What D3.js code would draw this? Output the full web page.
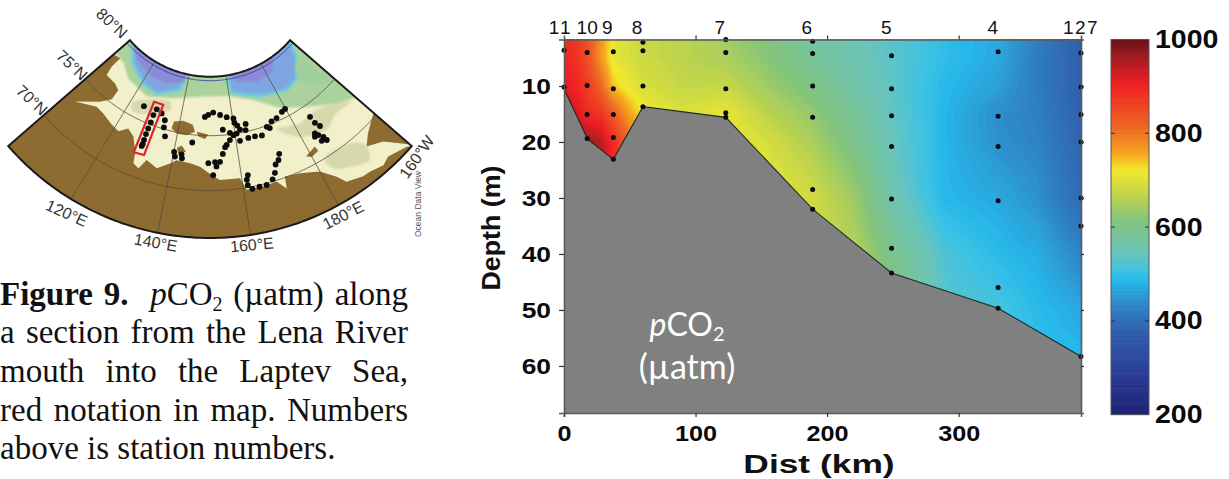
<!DOCTYPE html>
<html>
<head>
<meta charset="utf-8">
<script src="https://cdn.jsdelivr.net/npm/d3@7"></script>
<style>
html, body { margin: 0; padding: 0; background: #fff; overflow: hidden; }
svg { display: block; }
text { font-family: "Liberation Sans", Arial, sans-serif; }
</style>
</head>
<body>
<svg width="1229" height="479"></svg>
<script>
// ---- section data ----
var gridDist = [0, 10, 18, 28, 37.5, 48, 60, 90, 123, 155, 189, 220, 249, 290, 330, 360, 393];
var gridDepth = [0, 5, 10, 15, 20, 25, 30, 40, 50, 60, 70];
// one row per depth, one value per distance (pCO2 in uatm)
var pco2Rows = [
	[890, 870, 840, 770, 715, 695, 680, 665, 645, 610, 570, 545, 530, 495, 472, 425, 375],
	[900, 880, 845, 770, 710, 695, 680, 665, 650, 620, 585, 555, 532, 495, 470, 420, 375],
	[920, 895, 870, 815, 740, 715, 695, 672, 675, 640, 605, 565, 535, 487, 460, 420, 375],
	[950, 925, 890, 880, 830, 770, 720, 700, 712, 665, 630, 585, 540, 483, 442, 425, 378],
	[985, 975, 965, 945, 890, 820, 750, 720, 725, 690, 650, 600, 545, 483, 445, 430, 385],
	[990, 980, 970, 950, 900, 830, 760, 730, 730, 705, 668, 620, 550, 483, 458, 438, 390],
	[990, 980, 970, 950, 900, 830, 760, 730, 730, 715, 685, 640, 560, 485, 470, 445, 395],
	[990, 980, 970, 950, 900, 830, 760, 730, 730, 715, 690, 660, 600, 520, 490, 475, 430],
	[990, 980, 970, 950, 900, 830, 760, 730, 730, 715, 690, 660, 610, 530, 515, 490, 470],
	[990, 980, 970, 950, 900, 830, 760, 730, 730, 715, 690, 660, 610, 530, 520, 495, 490],
	[990, 980, 970, 950, 900, 830, 760, 730, 730, 715, 690, 660, 610, 530, 520, 495, 490]
];
var bottomDist = [0, 18, 37.5, 60, 123, 189, 249, 330, 393];
var bottomDepth = [10.5, 19.5, 23.1, 13.7, 15.6, 32, 43.4, 49.7, 58.3];
var stationDist = [0, 17.6, 37.5, 60, 123, 189, 249, 330, 393];
var stationNames = ["11", "10", "9", "8", "7", "6", "5", "4", "127"];
var stationLabelDist = [-2.5, 17.6, 33, 55.5, 118.5, 184.5, 245, 326, 393];
var sampleDepths = [
	[3.6, 10.2],
	[4, 9.9, 15.1, 19.4],
	[3.9, 10.5, 15.1, 19.2, 23.1],
	[2.2, 3.7, 10, 13.7],
	[1.7, 4, 10.5, 14.8, 15.6],
	[2, 4.2, 10, 15.6, 28.5, 32],
	[4.6, 10.5, 15.3, 20.8, 30.2, 39, 43.4],
	[3.9, 15.4, 20.8, 30.5, 46, 49.7],
	[4.1, 10.2, 15.1, 20, 30, 35, 58.3]
];
var distTicks = [0, 100, 200, 300];
var depthTicks = [10, 20, 30, 40, 50, 60];
var scaleTicks = [200, 400, 600, 800, 1000];
var colorValues = [200, 278, 379, 433, 486, 507, 547, 615, 668, 722, 756, 810, 905, 960, 1000];
var colorStops = ["#1e2272", "#2b3a94", "#3060ae", "#2f85c6", "#27b8ea", "#3dc3e4", "#6cc4b8", "#82c47c", "#bfd44b", "#f2e92c", "#f6a61e", "#ee6a24", "#ef2023", "#a51c20", "#6b1216"];

// ---- map data, lon/lat ----
var coastMain = [[102.3,78.4],[105.6,78.6],[105.6,77.5],[106.6,76.65],[111.2,76.6],[113.8,76.3],[113.9,75.3],[111.3,74.45],[105.4,72.9],[111.5,73.9],[114.5,73.8],[118.8,73.4],[121.6,73.2],[123.9,73.85],[126.5,73.4],[129,72.1],[129.6,71.15],[131.4,70.9],[132.8,71.85],[136.2,71.4],[139.6,72.1],[141.3,72.5],[145.4,72.4],[148.4,72.15],[152.2,71.3],[154,70.95],[159.5,70.93],[160.8,69.8],[165.2,69.8],[168.8,69.9],[170.7,69],[171.3,70.1],[175.2,69.85],[180,69.2],[182.9,68],[184.2,67.15],[188,66.7],[189.8,66.65],[193,66.3],[195.1,66.6],[199.5,66],[200.3,65.7]];
var coastAlaska = [[200.3,70.3],[195.5,69.4],[193,68.6],[196.7,67.9],[199,66.7],[200.3,65.9]];
var islands = [
	[[137.6,75.25],[137.9,75.9],[141.2,76.15],[144.9,75.9],[146,75.3],[143.2,74.9],[139.7,74.9]],
	[[146.6,75.3],[150.7,75.1],[149.6,74.7],[147.3,74.9]],
	[[140.7,73.6],[142.1,73.9],[143.7,73.4],[141.5,73.1]],
	[[178.7,71],[182.1,71.4],[182.3,70.9],[180,70.7]]
];
var shelfTan = [
	[[120.7,76],[134.3,77.55],[135.3,76.8],[122.8,75.4]],
	[[174.2,74.4],[179.8,72.8],[187.5,72.1],[192.9,72.7],[198.5,72.5],[194.2,73.5],[188.7,74.1],[181.8,73.9]],
	[[182.6,69.9],[186.8,70.15],[192.9,69],[191.5,67.5],[186.8,68.1],[183.3,68.8]]
];
var shelfEdge = [[102.3,78.6],[108.3,78.5],[114.1,77.7],[124.6,77.2],[135.3,77.93],[146.8,78.5],[158.8,78.5],[169.8,77.6],[178.3,76],[186.7,74.8],[194.2,73.5],[200.3,72.4]];
var deepWest = [[103.9,80.4],[111.5,79],[121.1,78],[127.9,77.8],[137.3,78.8],[139,80.4]];
var deepEast = [[160.2,80.4],[161.3,78.7],[172.9,77.7],[184,77.1],[190.1,77.4],[196.5,78.9],[200.3,80.4]];
var deepestWest = [[105,80.4],[112,79.5],[122,79],[130,79],[138,79.5],[139,80.4]];
var deepestEast = [[162,80.4],[165,79.6],[175,79],[183,79.2],[188,80.4]];
var ridgeEast = [[198.7,78.7],[198.4,77],[200.3,75],[195.2,75.6],[190.8,77.1],[192.8,78.3]];
var cruiseTrack = [[130.3,76.5],[129.9,75.9],[130,75.2],[129.9,74.6],[129.9,74.05],[130,73.5],[130.1,73.1],[130,72.9]];
var otherStations = [[125.3,76.3],[132.6,76.3],[134.5,75.8],[134.9,75.15],[136.1,74.4],[145.4,74.3],[140.1,73.2],[140.6,72.8],[142.5,73.1],[142.8,72.75],[149.3,76.7],[150.6,76.9],[152.6,77.1],[155.3,76.85],[157.8,76.6],[160.3,76.4],[160.4,76],[164.4,75.7],[163.9,75.15],[155.9,75.5],[158.3,75.15],[160.6,75],[162,75.3],[161.3,75.7],[159.4,74.9],[158,74.5],[156.8,74.1],[156.2,73.9],[155.3,73.3],[154.3,72.6],[152.8,72.6],[150.8,72.5],[153.2,72.2],[152.2,71.4],[161.3,74.3],[164.2,74.4],[166.5,74.4],[168.8,74.3],[171.3,74.9],[173.5,75.2],[175.6,75.3],[178.3,75.6],[179.8,75.7],[172.1,74.7],[185.7,73.9],[185.9,73.2],[186.6,72.7],[184.1,72.4],[184.7,72.1],[185.6,71.7],[183.6,72.15],[184.6,71.5],[185.9,71.3],[172,72.2],[171.2,71.7],[170,71.4],[169.1,70.7],[168,70.2],[166.1,69.85],[164.2,69.85],[162.3,69.8],[161.3,70.2],[161.3,70.7],[161.8,71.1]];
var redBox = [[128.2,77.05],[132.1,77.1],[131.6,72.2],[128.5,72.1]];
var meridians = [120, 140, 160, 180];
var parallels = [70, 75, 80];
var lonWest = 102.3, lonEast = 200.3, latNorth = 80.36, latSouth = 65.7;

var svg = d3.select("svg");

// widen a text by a factor, the reference fonts look stretched sideways
function stretch(sel, k) {
	sel.each(function() {
		this.setAttribute("textLength", this.getComputedTextLength() * k);
		this.setAttribute("lengthAdjust", "spacingAndGlyphs");
	});
}

// ---- section plot ----
var x = d3.scaleLinear().domain([0, 393]).range([564, 1081]);
var y = d3.scaleLinear().domain([1.7, 68.4]).range([39.5, 413]);
var color = d3.scaleLinear().domain(colorValues).range(colorStops).interpolate(d3.interpolateRgb).clamp(true);

// bilinear lookup in the read-off table so the contours can be smooth
function pco2At(dist, depth) {
	var i = Math.min(d3.bisectRight(gridDist, dist), gridDist.length - 1);
	var j = Math.min(d3.bisectRight(gridDepth, depth), gridDepth.length - 1);
	var tx = (dist - gridDist[i - 1]) / (gridDist[i] - gridDist[i - 1]);
	var ty = (depth - gridDepth[j - 1]) / (gridDepth[j] - gridDepth[j - 1]);
	var top = pco2Rows[j - 1][i - 1] * (1 - tx) + pco2Rows[j - 1][i] * tx;
	var low = pco2Rows[j][i - 1] * (1 - tx) + pco2Rows[j][i] * tx;
	return top * (1 - ty) + low * ty;
}

var stepKm = 1, stepM = 0.5;
var nx = Math.round(393 / stepKm) + 1, ny = Math.round(70 / stepM) + 1;
var field = [];
for (var j = 0; j < ny; j++) {
	for (var i = 0; i < nx; i++) {
		field.push(pco2At(i * stepKm, j * stepM));
	}
}
var contours = d3.contours().size([nx, ny]).smooth(true).thresholds(d3.range(200, 1000, 6))(field);
var contourPath = d3.geoPath(d3.geoTransform({
	point: function(px, py) {
		this.stream.point(x((px - 0.5) * stepKm), y((py - 0.5) * stepM));
	}
}));

var floorLine = d3.line().x(function(d) { return x(d[0]); }).y(function(d) { return y(d[1]); });
var floorPts = d3.zip(bottomDist, bottomDepth);

svg.append("rect")
	.attr("x", x(0)).attr("y", y.range()[0])
	.attr("width", x(393) - x(0)).attr("height", y.range()[1] - y.range()[0])
	.attr("fill", "#808080");

svg.append("clipPath").attr("id", "water")
	.append("path")
	.attr("d", floorLine([[0, 1.7]].concat(floorPts, [[393, 1.7]])) + "Z");

svg.append("g").attr("clip-path", "url(#water)")
	.selectAll("path").data(contours).enter().append("path")
	.attr("d", contourPath)
	.attr("fill", function(d) { return color(d.value + 3); });

svg.append("path")
	.attr("d", floorLine(floorPts))
	.attr("fill", "none").attr("stroke", "#1c2a2a").attr("stroke-width", 1.1);

// sample bottles
stationDist.forEach(function(dist, k) {
	svg.append("g").selectAll("circle").data(sampleDepths[k]).enter().append("circle")
		.attr("cx", x(dist))
		.attr("cy", function(d) { return y(d); })
		.attr("r", 2.5)
		.attr("fill", "#0a0a14");
});

// axes
var axisColor = "#5a5a5a";
function styleAxis(g) {
	g.selectAll(".domain").attr("stroke", axisColor).attr("stroke-width", 1.6);
	g.selectAll(".tick line").attr("stroke", "#333").attr("stroke-width", 1.2);
	g.selectAll("text").attr("fill", "#0a0a0a")
		.style("font-family", '"Liberation Sans", Arial, sans-serif')
		.style("font-weight", "bold").style("font-size", "22.5px");
}
var bottomAxis = svg.append("g").attr("transform", "translate(0,413)")
	.call(d3.axisBottom(x).tickValues(distTicks).tickSize(4).tickPadding(8).tickFormat(d3.format("d")))
	.call(styleAxis);
bottomAxis.selectAll("text").call(stretch, 1.12);

var leftAxis = svg.append("g").attr("transform", "translate(564,0)")
	.call(d3.axisLeft(y).tickValues(depthTicks).tickSize(5).tickPadding(8).tickFormat(d3.format("d")))
	.call(styleAxis);
leftAxis.selectAll("text").call(stretch, 1.17);

svg.append("g").attr("transform", "translate(1081,0)")
	.call(d3.axisRight(y).tickValues(depthTicks).tickSize(3).tickFormat(""))
	.call(styleAxis);

var topAxis = svg.append("g").attr("transform", "translate(0,39.5)")
	.call(d3.axisTop(x).tickValues(distTicks.slice(1)).tickSize(4).tickFormat(""))
	.call(styleAxis);

// station numbers along the top
svg.append("g").selectAll("text").data(stationNames).enter().append("text")
	.attr("x", function(d, k) { return x(stationLabelDist[k]); })
	.attr("y", 34)
	.attr("text-anchor", "middle")
	.attr("font-size", 19)
	.attr("letter-spacing", function(d) { return d === "11" ? 2 : d === "127" ? 1.5 : 0; })
	.attr("fill", "#111")
	.text(function(d) { return d; });

svg.append("text")
	.attr("x", 819).attr("y", 473)
	.attr("text-anchor", "middle")
	.attr("font-size", 26).attr("font-weight", "bold").attr("fill", "#111")
	.text("Dist (km)").call(stretch, 1.36);

svg.append("text")
	.attr("transform", "translate(500,228) rotate(-90)")
	.attr("text-anchor", "middle")
	.attr("font-size", 26).attr("font-weight", "bold").attr("fill", "#111")
	.text("Depth (m)").call(stretch, 1.03);

// white note on the grey sea floor
var note = svg.append("text")
	.attr("x", 687).attr("y", 336)
	.attr("text-anchor", "middle")
	.attr("fill", "#fff")
	.style("font-family", "Lato, 'Open Sans', sans-serif")
	.attr("font-size", 32);
note.append("tspan").attr("font-style", "italic").text("p");
note.append("tspan").text("CO");
note.append("tspan").attr("font-size", 20).attr("dy", 5).text("2");
svg.append("text")
	.attr("x", 687).attr("y", 379)
	.attr("text-anchor", "middle")
	.attr("fill", "#fff")
	.style("font-family", "Lato, 'Open Sans', sans-serif")
	.attr("font-size", 34)
	.text("(\u00b5atm)");

// ---- colour bar ----
var cbar = d3.scaleLinear().domain([200, 1000]).range([414.7, 39.5]);
var cbarBand = d3.scaleBand().domain(d3.range(200, 1000, 8)).range([414.7, 39.5]).paddingInner(0);
svg.append("g").selectAll("rect").data(cbarBand.domain()).enter().append("rect")
	.attr("x", 1111).attr("width", 38)
	.attr("y", function(d) { return cbarBand(d) - 0.3; })
	.attr("height", cbarBand.bandwidth() + 0.6)
	.attr("fill", function(d) { return color(d + 4); });
svg.append("rect")
	.attr("x", 1111).attr("y", 39.5).attr("width", 38).attr("height", 375.2)
	.attr("fill", "none").attr("stroke", "#555").attr("stroke-width", 1);

var cbarAxis = svg.append("g").attr("transform", "translate(1149,0)")
	.call(d3.axisRight(cbar).tickValues(scaleTicks).tickSize(0).tickPadding(6).tickFormat(d3.format("d")))
	.call(styleAxis);
cbarAxis.select(".domain").remove();
cbarAxis.selectAll("text").style("font-size", "25px").call(stretch, 1.14);
svg.append("g").selectAll("g").data(scaleTicks.slice(1, 4)).enter().append("g")
	.each(function(d) {
		d3.select(this).append("line")
			.attr("x1", 1111).attr("x2", 1115).attr("y1", cbar(d)).attr("y2", cbar(d))
			.attr("stroke", "#333");
		d3.select(this).append("line")
			.attr("x1", 1145).attr("x2", 1149).attr("y1", cbar(d)).attr("y2", cbar(d))
			.attr("stroke", "#333");
	});

// ---- map ----
var projection = d3.geoAzimuthalEquidistant()
	.rotate([-151.3, -90])
	.scale(630.25)
	.translate([210, -29.3])
	.precision(0.1);
var mapLine = d3.line();
function mapPath(pts, closed) {
	return mapLine(pts.map(function(p) { return projection(p); })) + (closed ? "Z" : "");
}
// smooth variant for coast-free bands
var mapCurve = d3.line().curve(d3.curveCatmullRomClosed);
function mapBlob(pts) {
	return mapCurve(pts.map(function(p) { return projection(p); }));
}
function parallelPts(lat) {
	return d3.range(lonWest, lonEast + 0.5, 1).map(function(lon) { return [lon, lat]; });
}
function meridianPts(lon) {
	return d3.range(latSouth, latNorth + 0.2, 0.5).map(function(lat) { return [lon, lat]; });
}
// runs a band round along a parallel, so it does not close with a chord
function closeAlong(pts, lat) {
	var from = pts[pts.length - 1][0], to = pts[0][0];
	return pts.concat(d3.range(from, to, -1).map(function(lon) { return [lon, lat]; }), [[to, lat]]);
}
var sectorPts = parallelPts(latNorth).concat(parallelPts(latSouth).reverse());

var defs = svg.append("defs");
defs.append("clipPath").attr("id", "sector").append("path").attr("d", mapPath(sectorPts, true));
defs.append("filter").attr("id", "soft")
	.attr("x", "-5%").attr("y", "-5%").attr("width", "110%").attr("height", "110%")
	.append("feGaussianBlur").attr("stdDeviation", 0.8);

var map = svg.append("g").attr("clip-path", "url(#sector)");
map.append("path").attr("d", mapPath(sectorPts, true)).attr("fill", "#f2f0ca");

var sea = map.append("g").attr("filter", "url(#soft)");
shelfTan.forEach(function(p) {
	sea.append("path").attr("d", mapBlob(p)).attr("fill", "#d7d8ac");
});
sea.append("path").attr("d", mapPath(closeAlong(shelfEdge, 81), true)).attr("fill", "#abd29c");
[deepWest, deepEast].forEach(function(p) {
	sea.append("path").attr("d", mapPath(closeAlong(p, 81), true)).attr("fill", "#7ea7e2")
		.attr("stroke", "#70d0d8").attr("stroke-width", 3);
});
[deepestWest, deepestEast].forEach(function(p) {
	sea.append("path").attr("d", mapPath(closeAlong(p, 81), true)).attr("fill", "#8b8bd8");
});
sea.append("path").attr("d", mapBlob(ridgeEast)).attr("fill", "#9fd09c");

var landColor = "#8e6b30";
map.append("path").attr("d", mapPath(closeAlong(coastMain, 65), true)).attr("fill", landColor);
map.append("path").attr("d", mapPath(coastAlaska, true)).attr("fill", landColor);
islands.forEach(function(p) {
	map.append("path").attr("d", mapPath(p, true)).attr("fill", landColor);
});

meridians.forEach(function(lon) {
	map.append("path").attr("d", mapPath(meridianPts(lon))).attr("fill", "none")
		.attr("stroke", "#54503a").attr("stroke-width", 0.8);
});
parallels.forEach(function(lat) {
	map.append("path").attr("d", mapPath(parallelPts(lat))).attr("fill", "none")
		.attr("stroke", lat === 80 ? "#3a3a90" : "#54503a").attr("stroke-width", 0.8);
});

map.append("g").selectAll("circle").data(otherStations.concat(cruiseTrack)).enter().append("circle")
	.attr("cx", function(d) { return projection(d)[0]; })
	.attr("cy", function(d) { return projection(d)[1]; })
	.attr("r", 2.9)
	.attr("fill", "#0c0c0c");

svg.append("path").attr("d", mapPath(redBox, true))
	.attr("fill", "none").attr("stroke", "#e0222c").attr("stroke-width", 2.2).attr("stroke-linejoin", "round");
svg.append("path").attr("d", mapPath(sectorPts, true))
	.attr("fill", "none").attr("stroke", "#1a1a1a").attr("stroke-width", 2);

// rotated graticule labels
var mapLabels = ["80\u00b0N", "75\u00b0N", "70\u00b0N", "120\u00b0E", "140\u00b0E", "160\u00b0E", "180\u00b0E", "160\u00b0W"];
var labelLon = [89.4, 95.7, 97.3, 120.7, 140, 160, 179.9, 199.3];
var labelLat = [79.9, 74.8, 70, 64.4, 64.8, 64.8, 64.7, 64.7];
var labelAngle = [43, 43, 43, 24, 10, -5, -27, -55];
svg.append("g").selectAll("text").data(mapLabels).enter().append("text")
	.attr("transform", function(d, k) {
		var p = projection([labelLon[k], labelLat[k]]);
		return "translate(" + p[0] + "," + p[1] + ") rotate(" + labelAngle[k] + ")";
	})
	.attr("text-anchor", "middle").attr("dy", "0.35em")
	.attr("font-size", 16).attr("fill", "#333")
	.text(function(d) { return d; });
svg.append("text")
	.attr("transform", "translate(421,237) rotate(-90)")
	.attr("font-size", 8.5).attr("fill", "#555")
	.text("Ocean Data View");

// ---- caption ----
var captionWidth = 408;
var capFont = '"Liberation Serif", "Times New Roman", serif';
var captionSize = 33;
var captionLines = ["a section from the Lena River", "mouth into the Laptev Sea,", "red notation in map. Numbers", "above is station numbers."];
var captionBase = [305, 343, 382, 421, 459];
var cap1 = svg.append("text").attr("x", 0).attr("y", captionBase[0])
	.style("font-family", capFont).attr("font-size", captionSize).attr("fill", "#111");
cap1.append("tspan").attr("font-weight", "bold").text("Figure 9.");
cap1.append("tspan").text("\u00a0\u00a0");
cap1.append("tspan").attr("font-style", "italic").text("p");
cap1.append("tspan").text("CO");
cap1.append("tspan").attr("font-size", 20).attr("dy", 6).text("2");
cap1.append("tspan").attr("dy", -6).text(" (\u00b5atm) along");
svg.append("g").selectAll("text").data(captionLines).enter().append("text")
	.attr("x", 0)
	.attr("y", function(d, k) { return captionBase[k + 1]; })
	.style("font-family", capFont).attr("font-size", captionSize).attr("fill", "#111")
	.text(function(d) { return d; })
	.each(function(d, k) {
		// last line stays ragged, the others are justified
		if (k === 3) return;
		var gaps = d.split(" ").length - 1;
		d3.select(this).attr("word-spacing", (captionWidth - this.getComputedTextLength()) / gaps);
	});
// five spaces in the first line, the two no-break ones count as well
cap1.attr("word-spacing", (captionWidth - cap1.node().getComputedTextLength()) / 5);
</script>
</body>
</html>
